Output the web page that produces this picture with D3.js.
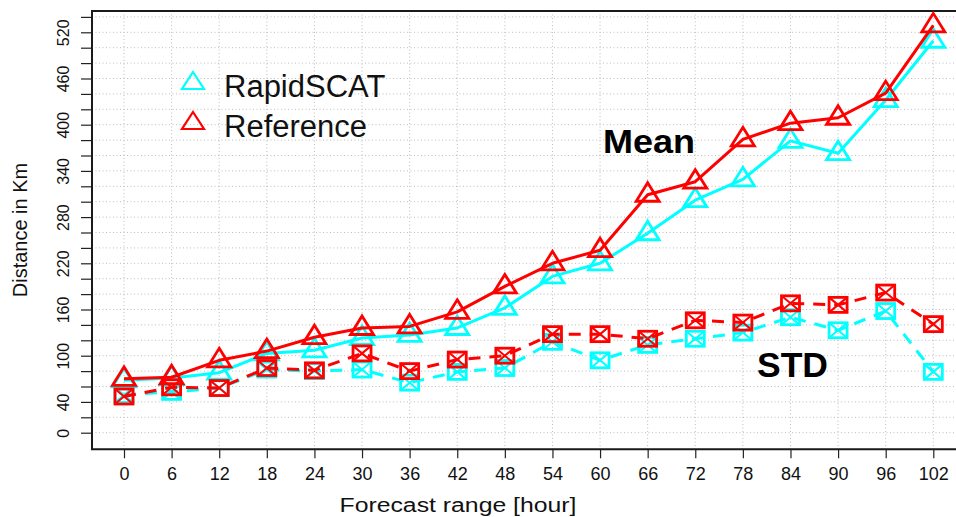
<!DOCTYPE html>
<html>
<head>
<meta charset="utf-8">
<script src="https://cdn.jsdelivr.net/npm/d3@7"></script>
<style>
  html, body { margin: 0; padding: 0; background: #fff; }
  svg { display: block; font-family: "Liberation Sans", Arial, Helvetica, sans-serif; }
</style>
</head>
<body>
<svg id="chart" width="956" height="517"></svg>
<script>
// Forecast lead times (hours)
const hours = [0, 6, 12, 18, 24, 30, 36, 42, 48, 54, 60, 66, 72, 78, 84, 90, 96, 102];

// Mean track distance error (km)
const meanRapid = [68, 71, 78, 103, 107, 123, 127, 136, 162, 203, 220, 259, 302, 329, 379, 363, 432, 509];
const meanRef   = [70, 72, 94, 106, 124, 136, 138, 157, 190, 220, 237, 309, 326, 381, 402, 409, 441, 529];

// Standard deviation of the distance error (km)
const stdRapid = [49, 53, 58, 82, 80, 82, 65, 79, 84, 118, 94, 114, 122, 130, 150, 133, 158, 79];
const stdRef   = [47, 59, 58, 84, 81, 103, 80, 95, 100, 128, 128, 122, 146, 143, 168, 166, 182, 141];

// Axis ticks
const yTicks = d3.range(0, 541, 20);
const yTickLabels = [0, 40, 100, 160, 220, 280, 340, 400, 460, 520];
const xTicks = hours;

const seriesNames = ["RapidSCAT", "Reference"];
const colors = { RapidSCAT: "#00ffff", Reference: "#ff0000" };

const svg = d3.select("#chart");
const W = 956, H = 517;
const box = { left: 92, top: 11, right: 958, bottom: 449.3 };

const x = d3.scaleLinear().domain([0, 102]).range([124, 933.3]);
const y = d3.scaleLinear().domain([0, 520]).range([432.7, 32.3]);

svg.append("rect").attr("width", W).attr("height", H).attr("fill", "#fff");

// dotted grid
const grid = svg.append("g").attr("stroke", "#bdbdbd").attr("stroke-width", 1).attr("stroke-dasharray", "1,2.5");
grid.selectAll("line.h").data(yTicks).join("line")
  .attr("x1", box.left).attr("x2", box.right)
  .attr("y1", d => y(d)).attr("y2", d => y(d));
grid.selectAll("line.v").data(xTicks).join("line")
  .attr("x1", d => x(d)).attr("x2", d => x(d))
  .attr("y1", box.top).attr("y2", box.bottom);

// Y axis
const yAxis = svg.append("g")
  .attr("transform", `translate(${box.left},0)`)
  .call(d3.axisLeft(y).tickValues(yTicks).tickSize(11)
    .tickFormat(d => yTickLabels.includes(d) ? String(d) : ""));
yAxis.select(".domain").remove();
yAxis.selectAll(".tick line").attr("stroke", "#222").attr("stroke-width", 1.2);
yAxis.selectAll(".tick text")
  .attr("transform", "rotate(-90)")
  .attr("x", 0).attr("y", -23.5).attr("dy", 0)
  .attr("text-anchor", "middle")
  .attr("font-size", 16).attr("fill", "#111")
  .attr("font-family", "Liberation Sans, Arial, sans-serif");

// X axis
const xAxis = svg.append("g")
  .attr("transform", `translate(0,${box.bottom})`)
  .call(d3.axisBottom(x).tickValues(xTicks).tickSize(9).tickFormat(d3.format("d")));
xAxis.select(".domain").remove();
xAxis.selectAll(".tick line").attr("stroke", "#222").attr("stroke-width", 1.2);
xAxis.selectAll(".tick text")
  .attr("y", 30.7).attr("dy", 0)
  .attr("font-size", 18).attr("fill", "#111")
  .attr("font-family", "Liberation Sans, Arial, sans-serif");

// plot frame
svg.append("path")
  .attr("d", `M${box.right},${box.top}H${box.left}V${box.bottom}H${box.right}`)
  .attr("fill", "none").attr("stroke", "#1a1a1a").attr("stroke-width", 2);

// axis titles
svg.append("text")
  .attr("x", 458).attr("y", 512.3)
  .attr("text-anchor", "middle")
  .attr("font-size", 20)
  .attr("textLength", 237).attr("lengthAdjust", "spacingAndGlyphs")
  .attr("fill", "#111")
  .text("Forecast range [hour]");

svg.append("text")
  .attr("transform", "translate(27,230) rotate(-90)")
  .attr("text-anchor", "middle")
  .attr("font-size", 20)
  .attr("fill", "#111")
  .text("Distance in Km");

// series
const triPath = "M0,-12L11.5,6.5L-11.5,6.5Z";
const line = d3.line().x(d => x(d[0])).y(d => y(d[1]));

function drawSeries(values, color, kind) {
  const pts = hours.map((h, i) => [h, values[i]]);
  const g = svg.append("g");
  g.append("path")
    .attr("d", line(pts))
    .attr("fill", "none").attr("stroke", color).attr("stroke-width", 3)
    .attr("stroke-linejoin", "round")
    .attr("stroke-dasharray", kind === "std" ? "12,9" : null);
  const m = g.selectAll("g.m").data(pts).join("g")
    .attr("transform", d => `translate(${x(d[0])},${y(d[1])})`)
    .attr("fill", "none").attr("stroke", color).attr("stroke-width", 2.8);
  if (kind === "mean") {
    m.append("path").attr("d", triPath).attr("stroke-linejoin", "miter");
  } else {
    m.append("rect").attr("x", -9).attr("y", -7.5).attr("width", 18).attr("height", 15);
    m.append("path").attr("d", "M-9,-7.5L9,7.5M-9,7.5L9,-7.5").attr("stroke-width", 2);
  }
}

drawSeries(meanRapid, colors.RapidSCAT, "mean");
drawSeries(stdRapid, colors.RapidSCAT, "std");
drawSeries(meanRef, colors.Reference, "mean");
drawSeries(stdRef, colors.Reference, "std");

// legend
const legend = svg.append("g");
seriesNames.forEach((name, i) => {
  const cy = 82 + i * 40;
  legend.append("path")
    .attr("transform", `translate(193,${cy})`)
    .attr("d", "M0,-10L11,7L-11,7Z")
    .attr("fill", "none").attr("stroke", colors[name]).attr("stroke-width", 2.2);
  legend.append("text")
    .attr("x", 224).attr("y", cy + 14.5)
    .attr("font-size", 31).attr("fill", "#111")
    .text(name);
});

// group annotations
svg.append("text")
  .attr("x", 603).attr("y", 153)
  .attr("font-size", 34).attr("font-weight", "bold")
  .attr("textLength", 92).attr("lengthAdjust", "spacingAndGlyphs")
  .attr("fill", "#000")
  .text("Mean");
svg.append("text")
  .attr("x", 757).attr("y", 377)
  .attr("font-size", 35).attr("font-weight", "bold")
  .attr("textLength", 71).attr("lengthAdjust", "spacingAndGlyphs")
  .attr("fill", "#000")
  .text("STD");
</script>
</body>
</html>
